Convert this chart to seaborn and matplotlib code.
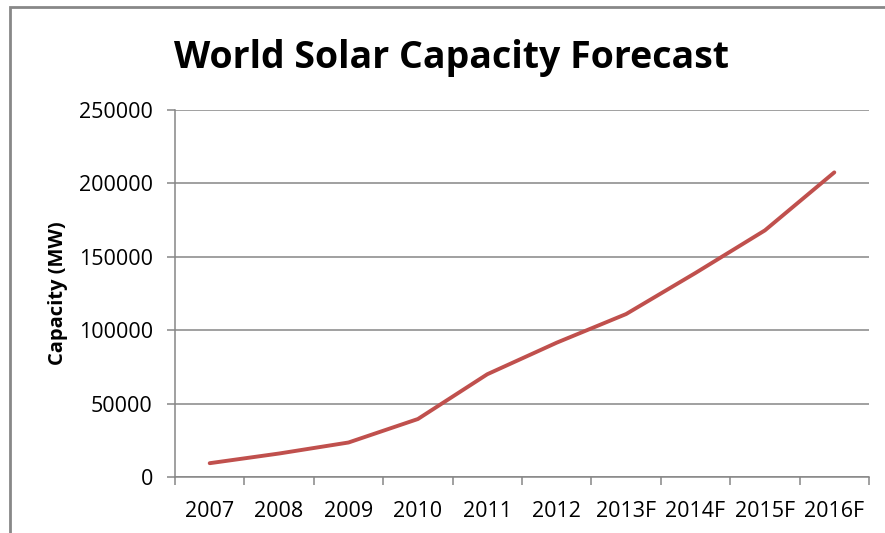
import matplotlib
matplotlib.use("Agg")
import matplotlib.pyplot as plt
from matplotlib.patches import Rectangle
from matplotlib.ticker import FixedLocator, NullFormatter
import pandas as pd
import seaborn as sns

# data
years = ["2007", "2008", "2009", "2010", "2011", "2012",
         "2013F", "2014F", "2015F", "2016F"]
capacity_mw = [9400, 16000, 23500, 39500, 70000, 91500,
               111000, 139000, 168000, 207500]
y_ticks = [0, 50000, 100000, 150000, 200000, 250000]

sns.set_style("white")
plt.rcParams["font.family"] = ["Open Sans", "DejaVu Sans"]

df = pd.DataFrame({"year": years, "capacity": capacity_mw})

fig = plt.figure(figsize=(8.85, 5.33), dpi=100)
ax = fig.add_axes([175 / 885, 1 - 477 / 533, (869 - 175) / 885, (477 - 110) / 533])

sns.lineplot(data=df, x="year", y="capacity", color="#C0504D", linewidth=2.8,
             ax=ax, sort=False)

grid_col = "#868686"
ax.set_ylim(0, 250000)
ax.set_xlim(-0.5, len(years) - 0.5)
ax.set_yticks(y_ticks)
ax.set_yticklabels([str(t) for t in y_ticks])
ax.yaxis.grid(True, color=grid_col, linewidth=1.1)
ax.xaxis.grid(False)
ax.set_axisbelow(True)

# category boundaries as major ticks, labels on minor ticks at the centres
ax.xaxis.set_major_locator(FixedLocator([i - 0.5 for i in range(len(years) + 1)]))
ax.xaxis.set_major_formatter(NullFormatter())
ax.xaxis.set_minor_locator(FixedLocator(range(len(years))))
ax.set_xticklabels(years, minor=True)
ax.tick_params(axis="x", which="major", direction="out", length=6, width=1.1,
               color=grid_col, bottom=True)
ax.tick_params(axis="x", which="minor", length=0, pad=17, labelsize=15.5,
               labelcolor="black", bottom=True)
ax.tick_params(axis="y", direction="out", length=6, width=1.1, color=grid_col,
               pad=10, labelsize=15.5, labelcolor="black", left=True)

for side in ["top", "right"]:
    ax.spines[side].set_visible(False)
for side in ["left", "bottom"]:
    ax.spines[side].set_color(grid_col)
    ax.spines[side].set_linewidth(1.1)

ax.set_xlabel("")
ax.set_ylabel("Capacity (MW)", fontsize=14.5, fontweight="bold", color="black")
ax.yaxis.set_label_coords(-107 / (869 - 175), 0.5)

fig.text(452 / 885, 1 - 68 / 533, "World Solar Capacity Forecast",
         ha="center", va="baseline", fontsize=27, fontweight="bold",
         color="black")

# outer chart frame (only top and left edges are visible in the crop)
fig.patches.append(Rectangle((10 / 885, -0.1), 1.2, 1 - 7 / 533 + 0.1,
                             transform=fig.transFigure, fill=False,
                             edgecolor="#888888", linewidth=2))

fig.savefig("out.png", dpi=100)
